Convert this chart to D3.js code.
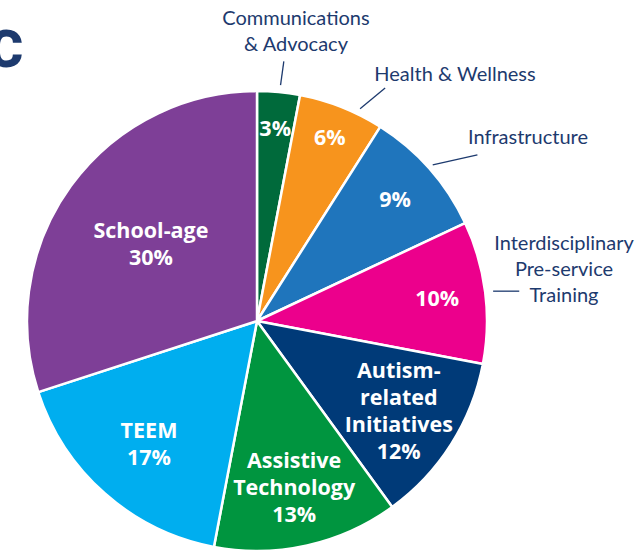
<!DOCTYPE html>
<html>
<head>
<meta charset="utf-8">
<script src="https://cdn.jsdelivr.net/npm/d3@7"></script>
<style>
  body { margin: 0; background: #fff; }
  svg { display: block; font-family: "Open Sans", "Lato", sans-serif; }
</style>
</head>
<body>
<div id="chart"></div>
<script>
// data
const categories = [
  "Communications & Advocacy",
  "Health & Wellness",
  "Infrastructure",
  "Interdisciplinary Pre-service Training",
  "Autism-related Initiatives",
  "Assistive Technology",
  "TEEM",
  "School-age"
];
const shares = [3, 6, 9, 10, 12, 13, 17, 30];
const colors = ["#006a3b", "#f7941d", "#1f75bc", "#ec008c", "#003a78", "#00953f", "#00aeef", "#7e3f97"];

// inside label lines (last line gets the percent)
const innerLines = [
  [], [], [], [],
  ["Autism-", "related", "Initiatives"],
  ["Assistive", "Technology"],
  ["TEEM"],
  ["School-age"]
];

const width = 642;
const height = 552;
const cx = 257, cy = 321;
const radius = 230;
const navy = "#1d3a6e";

const svg = d3.select("#chart").append("svg")
  .attr("width", width)
  .attr("height", height);

// cut-off heading letter at the top left
svg.append("text")
  .attr("x", 23)
  .attr("y", 67)
  .attr("text-anchor", "end")
  .attr("font-family", "Roboto, 'Open Sans', sans-serif")
  .attr("font-size", "52px")
  .attr("font-weight", 900)
  .attr("fill", navy)
  .text("C");

const g = svg.append("g")
  .attr("transform", `translate(${cx},${cy})`);

const pie = d3.pie().sort(null).value(d => d.value);
const arcs = pie(categories.map((c, i) => ({ name: c, value: shares[i], i })));

const arc = d3.arc().innerRadius(0).outerRadius(radius);

g.selectAll("path.slice")
  .data(arcs)
  .enter().append("path")
  .attr("class", "slice")
  .attr("d", arc)
  .attr("fill", d => colors[d.data.i])
  .attr("stroke", "#fff")
  .attr("stroke-width", 2.5)
  .attr("stroke-linejoin", "round");

// label radius per slice, as a fraction of the radius
const labelFrac = [0.84, 0.86, 0.8, 0.79, 0.73, 0.74, 0.71, 0.57];
const lineH = 27;

arcs.forEach(d => {
  const i = d.data.i;
  const mid = (d.startAngle + d.endAngle) / 2;
  const r = radius * labelFrac[i];
  const x = Math.sin(mid) * r;
  const y = -Math.cos(mid) * r;
  const lines = innerLines[i].concat([shares[i] + "%"]);
  const y0 = y - (lines.length - 1) * lineH / 2;
  const t = g.append("text")
    .attr("text-anchor", "middle")
    .attr("font-size", "21.5px")
    .attr("font-weight", 700)
    .attr("fill", "#fff");
  lines.forEach((ln, k) => {
    t.append("tspan")
      .attr("x", x)
      .attr("y", y0 + k * lineH)
      .attr("dy", "0.35em")
      .text(ln);
  });
});

// outside callouts for the four small slices
const callouts = [
  { i: 0, a0: 5.7, r0: 237, a1: 5.9, r1: 261, lines: ["Communications", "& Advocacy"], tx: 296, ty: 18 },
  { i: 1, a0: 25.9, r0: 236, a1: 28.8, r1: 266, lines: ["Health & Wellness"], tx: 455, ty: 74 },
  { i: 2, a0: 48.4, r0: 235, a1: 53, r1: 276, lines: ["Infrastructure"], tx: 528, ty: 137 },
  { i: 3, a0: 82.8, r0: 238, a1: 83.4, r1: 264, lines: ["Interdisciplinary", "Pre-service", "Training"], tx: 564, ty: 243 }
];
const rad = a => a * Math.PI / 180;

callouts.forEach(c => {
  g.append("line")
    .attr("x1", Math.sin(rad(c.a0)) * c.r0)
    .attr("y1", -Math.cos(rad(c.a0)) * c.r0)
    .attr("x2", Math.sin(rad(c.a1)) * c.r1)
    .attr("y2", c.i === 3 ? -Math.cos(rad(c.a0)) * c.r0 : -Math.cos(rad(c.a1)) * c.r1)
    .attr("stroke", navy)
    .attr("stroke-width", 1.3);
  const t = svg.append("text")
    .attr("text-anchor", "middle")
    .attr("font-family", "Lato, 'Open Sans', sans-serif")
    .attr("font-size", "20px")
    .attr("fill", navy);
  c.lines.forEach((ln, k) => {
    t.append("tspan")
      .attr("x", c.tx)
      .attr("y", c.ty + k * 26)
      .attr("dy", "0.35em")
      .text(ln);
  });
});
</script>
</body>
</html>
